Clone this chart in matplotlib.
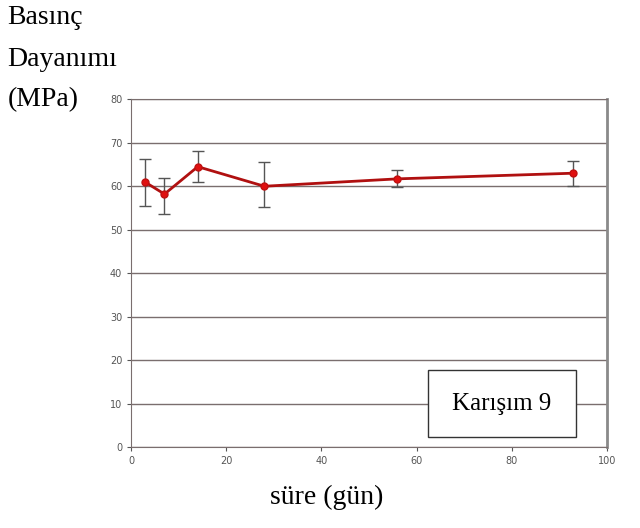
import matplotlib
matplotlib.use("Agg")
import matplotlib.pyplot as plt
from matplotlib.patches import Rectangle

gun = [3, 7, 14, 28, 56, 93]
dayanim = [60.9, 58.2, 64.5, 60.0, 61.7, 63.0]
hata_alt = [5.5, 4.5, 3.6, 4.8, 1.9, 3.0]
hata_ust = [5.3, 3.6, 3.7, 5.6, 2.0, 2.9]

xticks = [0, 20, 40, 60, 80, 100]
yticks = [0, 10, 20, 30, 40, 50, 60, 70, 80]
ylabel_satirlar = ["Basınç", "Dayanımı", "(MPa)"]

fig = plt.figure(figsize=(6.4, 5.28), dpi=100)
ax = fig.add_axes([0.205, 0.153, 0.743, 0.659])

ax.errorbar(gun, dayanim, yerr=[hata_alt, hata_ust], color="#b01010", lw=2,
            marker="o", ms=5, mfc="#e01010", mec="#c01010",
            ecolor="#555555", elinewidth=1, capsize=4, capthick=1, zorder=3)

ax.set_xlim(0, 100)
ax.set_ylim(0, 80)
ax.set_xticks(xticks)
ax.set_yticks(yticks)
ax.grid(axis="y", color="#7a6e6e", lw=1)
ax.set_axisbelow(True)
ax.tick_params(labelsize=7, colors="#555555", length=3, width=0.8)
for s in ["top", "bottom", "left"]:
    ax.spines[s].set_color("#7a6e6e")
ax.spines["right"].set_color("#8a8a8a")
ax.spines["right"].set_linewidth(2)

# etiket kutusu
ax.add_patch(Rectangle((0.624, 0.029), 0.311, 0.193, transform=ax.transAxes,
                       fc="white", ec="#333333", lw=1, zorder=4))
ax.text(0.779, 0.125, "Karışım 9", transform=ax.transAxes, ha="center", va="center",
        family="Liberation Serif", fontsize=18, zorder=5)

# y ekseni basligi, satir satir
for i, satir in enumerate(ylabel_satirlar):
    fig.text(0.012, 1 - (18 + 41 * i) / 528, satir, ha="left", va="center",
             family="Liberation Serif", fontsize=20)
fig.text(0.51, 0.058, "süre (gün)", ha="center", va="center",
         family="Liberation Serif", fontsize=20)

fig.savefig("out.png", dpi=100)
